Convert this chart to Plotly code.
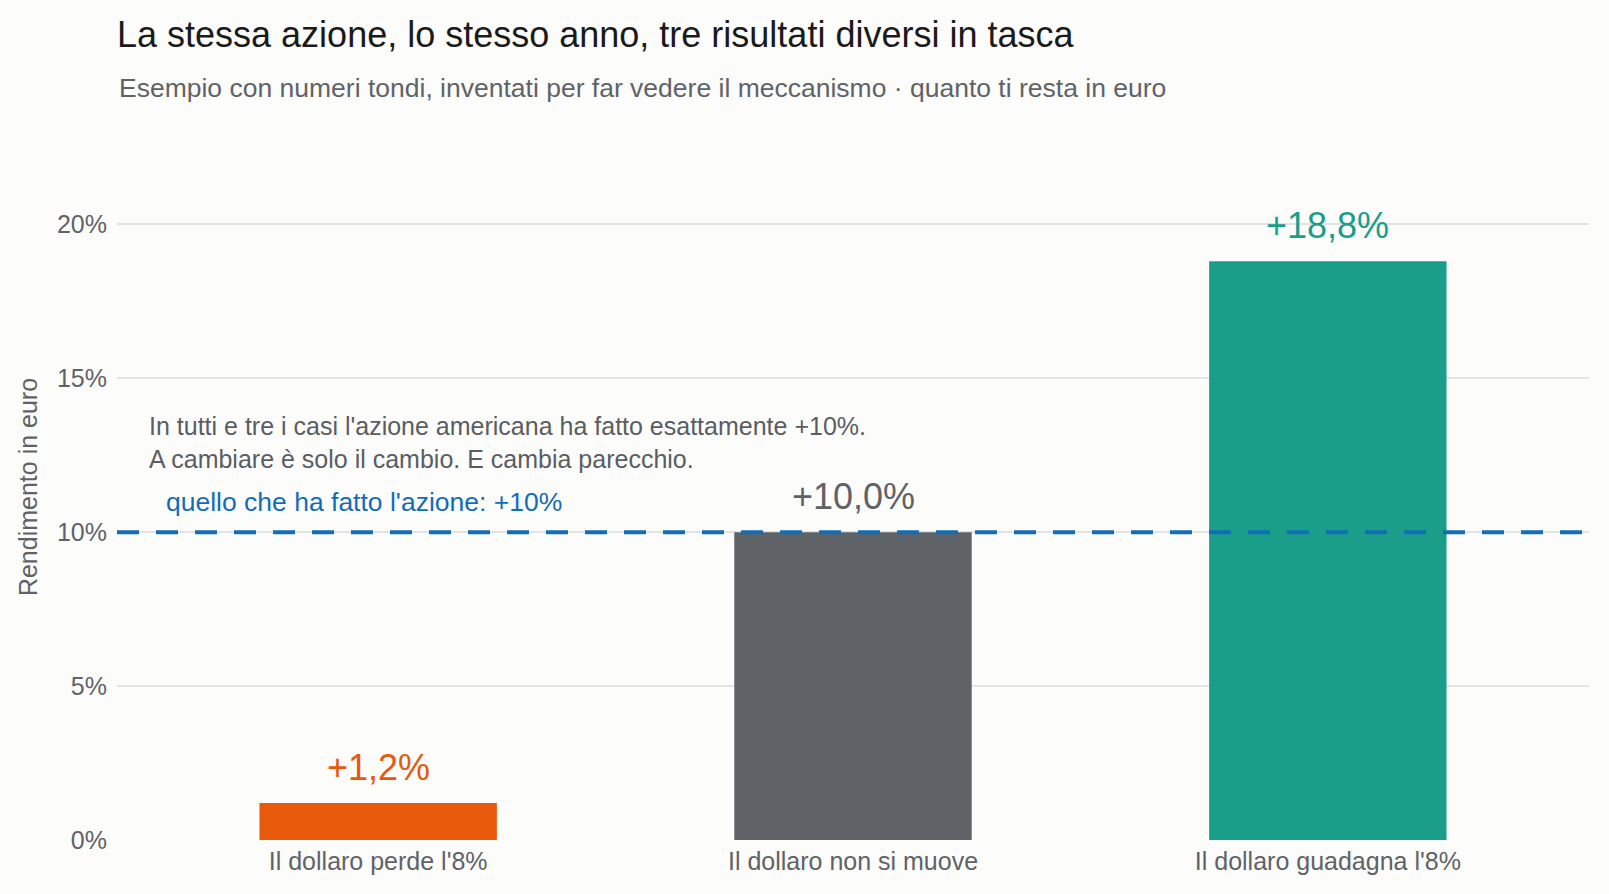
import plotly.graph_objects as go

categories = ["Il dollaro perde l'8%", "Il dollaro non si muove", "Il dollaro guadagna l'8%"]
values = [1.2, 10.0, 18.8]
labels = ["+1,2%", "+10,0%", "+18,8%"]
colors = ["#E8590C", "#5F6368", "#1A9E8A"]
stock_return = 10
y_ticks = [0, 5, 10, 15, 20]
y_ticktext = ["0%", "5%", "10%", "15%", "20%"]
note_lines = ["In tutti e tre i casi l'azione americana ha fatto esattamente +10%.",
              "A cambiare è solo il cambio. E cambia parecchio."]

FONT = "Liberation Sans, Arial, Helvetica, sans-serif"
BG = "#FCFCFA"

fig = go.Figure()
fig.add_trace(go.Bar(
    x=categories, y=values, marker=dict(color=colors, line=dict(width=0)),
    width=0.5, hoverinfo="skip", showlegend=False,
))

for c, v, t, col in zip(categories, values, labels, colors):
    fig.add_annotation(x=c, y=v, text=t, showarrow=False, yanchor="middle",
                       yshift=36, font=dict(size=36, color=col, family=FONT))

fig.add_shape(type="line", xref="paper", x0=0, x1=1, yref="y", y0=stock_return, y1=stock_return,
              line=dict(color="#136DB6", width=4, dash="22px,17px"), layer="above")

fig.add_annotation(xref="paper", x=0.032, y=10.99, yanchor="middle", xanchor="left",
                   text="quello che ha fatto l'azione: +10%", showarrow=False,
                   font=dict(size=26.5, color="#136DB6", family=FONT))
for i, line in enumerate(note_lines):
    fig.add_annotation(xref="paper", x=0.0202, y=12.92, yanchor="middle", xanchor="left", align="left",
                       yshift=16.5 - 33 * i, text=line,
                       showarrow=False, font=dict(size=25, color="#5A5D62", family=FONT))

fig.add_annotation(xref="paper", yref="paper", x=0, y=1, xanchor="left", yanchor="middle",
                   yshift=46,
                   text="Esempio con numeri tondi, inventati per far vedere il meccanismo · quanto ti resta in euro",
                   showarrow=False, font=dict(size=26.5, color="#5F6368", family=FONT))

fig.update_layout(
    width=1609, height=894,
    paper_bgcolor=BG, plot_bgcolor=BG,
    margin=dict(l=117, r=20, t=134, b=54),
    font=dict(family=FONT, color="#5F6368"),
    title=dict(text="La stessa azione, lo stesso anno, tre risultati diversi in tasca",
               x=0, xref="paper", xanchor="left", y=1 - 34 / 894, yanchor="middle",
               font=dict(size=36, color="#1A1A1A", family=FONT)),
    xaxis=dict(range=[-0.55, 2.55], showgrid=False, zeroline=False, showline=False,
               ticks="", tickfont=dict(size=25, color="#5F6368"), fixedrange=True,
               ticklabelstandoff=4),
    yaxis=dict(range=[0, 18.8 * 1.22], tickvals=y_ticks, ticktext=y_ticktext,
               gridcolor="#E3E3E3", gridwidth=1.5, zeroline=False, showline=False,
               tickfont=dict(size=25, color="#5F6368"), ticks="", ticklen=0,
               ticklabelstandoff=9,
               title=dict(text="Rendimento in euro", font=dict(size=25, color="#5F6368"), standoff=12)),
    bargap=0.5,
)

fig.write_html("out.html", config={"displayModeBar": False},
               post_script="document.body.style.margin='0';document.body.style.overflow='hidden';document.body.style.background='#FCFCFA';")
